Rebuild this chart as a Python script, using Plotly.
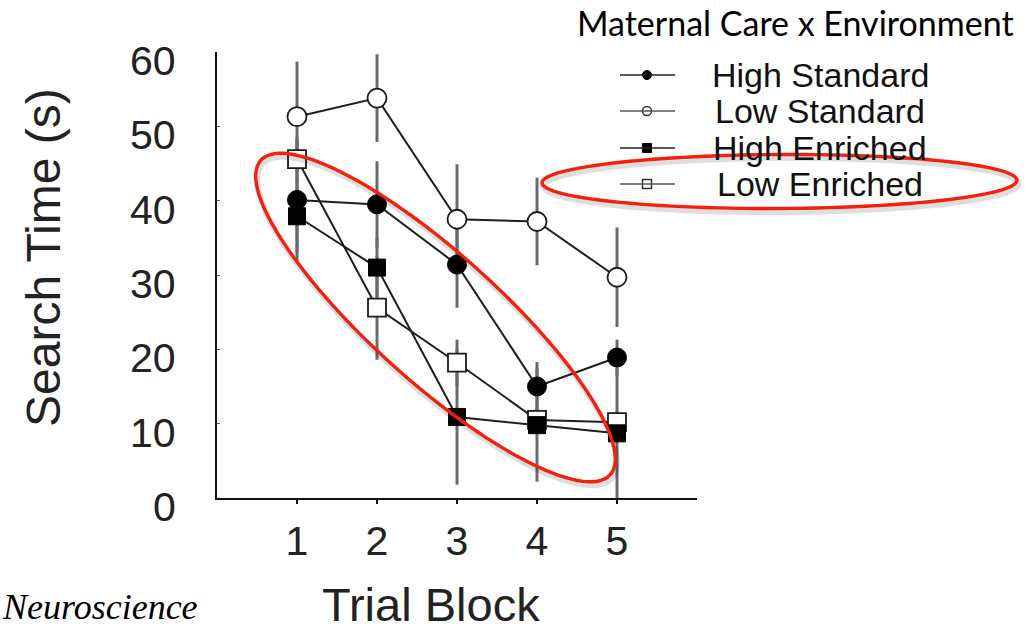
import numpy as np
import plotly.graph_objects as go

# ---- data -------------------------------------------------------------
trial_blocks = [1, 2, 3, 4, 5]

high_standard = [40.1, 39.5, 31.4, 15.0, 18.9]
high_standard_err = [8.2, 5.8, 5.8, 3.3, 2.4]

low_standard = [51.3, 53.8, 37.5, 37.2, 29.7]
low_standard_err = [7.4, 5.9, 7.4, 5.9, 6.7]

high_enriched = [37.9, 31.0, 10.9, 9.8, 8.7]
high_enriched_err = [5.0, 4.0, 9.1, 7.6, 8.8]

low_enriched = [45.6, 25.6, 18.2, 10.5, 10.2]
low_enriched_err = [3.0, 7.0, 3.1, 1.5, 1.5]

series_names = ["High Standard", "Low Standard", "High Enriched", "Low Enriched"]
y_ticks = [0, 10, 20, 30, 40, 50, 60]

# ---- geometry helpers (pixel -> paper) ---------------------------------
W, H = 1029, 631
L, R, T, B = 217, 332, 52, 133
PW, PH = W - L - R, H - T - B


def px(x):
    return (x - L) / PW


def py(y):
    return (H - B - y) / PH


def ellipse_path(cx, cy, a, b, deg, dx=0.0, dy=0.0, n=120):
    th = np.radians(deg)
    t = np.linspace(0, 2 * np.pi, n, endpoint=False)
    xs = cx + dx + a * np.cos(t) * np.cos(th) - b * np.sin(t) * np.sin(th)
    ys = cy + dy + a * np.cos(t) * np.sin(th) + b * np.sin(t) * np.cos(th)
    pts = [f"{px(x):.5f},{py(y):.5f}" for x, y in zip(xs, ys)]
    return "M " + " L ".join(pts) + " Z"


INK = "#1a1a1a"
ERR = "#6a6a6a"
FONT = "Arial, Liberation Sans, sans-serif"

fig = go.Figure()

# error bars first so the connecting lines and markers sit on top
for vals, errs in [(low_standard, low_standard_err), (high_standard, high_standard_err),
                   (low_enriched, low_enriched_err), (high_enriched, high_enriched_err)]:
    fig.add_trace(go.Scatter(
        x=trial_blocks, y=vals, mode="markers",
        marker=dict(size=1, color="rgba(0,0,0,0)"),
        error_y=dict(type="data", array=errs, visible=True, color=ERR, thickness=3, width=0),
        showlegend=False, hoverinfo="skip", cliponaxis=False,
    ))

styles = {
    "Low Standard": dict(symbol="circle", size=19, color="white", line=dict(color=INK, width=1.8)),
    "Low Enriched": dict(symbol="square", size=18, color="white", line=dict(color=INK, width=1.8)),
    "High Enriched": dict(symbol="square", size=17, color="black", line=dict(color="black", width=1)),
    "High Standard": dict(symbol="circle", size=19, color="black", line=dict(color="black", width=1)),
}
values = {
    "High Standard": high_standard,
    "Low Standard": low_standard,
    "High Enriched": high_enriched,
    "Low Enriched": low_enriched,
}
for name in ["Low Standard", "Low Enriched", "High Enriched", "High Standard"]:
    fig.add_trace(go.Scatter(
        x=trial_blocks, y=values[name], mode="lines+markers", name=name,
        line=dict(color="#1e1e1e", width=2),
        marker=styles[name], showlegend=False, cliponaxis=False,
    ))

# ---- hand-drawn legend on an overlay axis in paper units ---------------
legend_rows = [75, 111, 148, 184]
key_x0, key_x1, key_xm = 620, 675, 647
legend_marker = {
    "High Standard": dict(symbol="circle", size=9, color="black", line=dict(color="black", width=1)),
    "Low Standard": dict(symbol="circle", size=9, color="white", line=dict(color="#333", width=1.5)),
    "High Enriched": dict(symbol="square", size=9, color="black", line=dict(color="black", width=1)),
    "Low Enriched": dict(symbol="square", size=9, color="white", line=dict(color="#333", width=1.5)),
}
shapes = []
annotations = []
for name, ry in zip(series_names, legend_rows):
    dark = name.startswith("High")
    shapes.append(dict(type="line", xref="paper", yref="paper",
                       x0=px(key_x0), x1=px(key_x1), y0=py(ry), y1=py(ry),
                       line=dict(color="#222" if dark else "#555", width=1.6)))
    fig.add_trace(go.Scatter(
        x=[px(key_xm)], y=[py(ry)], xaxis="x2", yaxis="y2", mode="markers",
        marker=legend_marker[name], showlegend=False, hoverinfo="skip", cliponaxis=False,
    ))
    annotations.append(dict(text=name, xref="paper", yref="paper", x=px(820), y=py(ry),
                            xanchor="center", yanchor="middle", showarrow=False,
                            font=dict(family=FONT, size=34, color="#111")))

# y tick labels sit slightly below their tick marks
for v in y_ticks:
    annotations.append(dict(text=str(v), xref="paper", yref="y", x=px(178), y=v,
                            xanchor="right", yanchor="middle", yshift=-9, showarrow=False,
                            font=dict(family=FONT, size=41, color="#222")))

# ---- red highlight ellipses with a soft shadow -------------------------
for cx, cy, a, b, deg in [(435.5, 317.5, 235, 64, 42.0), (779.5, 181.5, 237.5, 27, -0.3)]:
    shapes.append(dict(type="path", xref="paper", yref="paper",
                       path=ellipse_path(cx, cy, a, b, deg, 1.5, 3.5),
                       line=dict(color="rgba(0,0,0,0.13)", width=6)))
    shapes.append(dict(type="path", xref="paper", yref="paper",
                       path=ellipse_path(cx, cy, a, b, deg),
                       line=dict(color="#f2200d", width=3.4)))

# ---- texts -------------------------------------------------------------
annotations += [
    dict(text="Maternal Care x Environment", xref="paper", yref="paper",
         x=px(795), y=py(22), xanchor="center", yanchor="middle", showarrow=False,
         font=dict(family="Lato, Carlito, sans-serif", size=34, color="black")),
    dict(text="Search Time (s)", xref="paper", yref="paper", textangle=-90,
         x=px(43), y=py(258), xanchor="center", yanchor="middle", showarrow=False,
         font=dict(family=FONT, size=48, color="#222")),
    dict(text="Trial Block", xref="paper", yref="paper",
         x=px(431), y=py(604), xanchor="center", yanchor="middle", showarrow=False,
         font=dict(family=FONT, size=47, color="#222")),
    dict(text="<i>Neuroscience</i>", xref="paper", yref="paper",
         x=px(0), y=py(607), xanchor="left", yanchor="middle", showarrow=False,
         font=dict(family="Liberation Serif, Times New Roman, serif", size=36, color="black")),
]

fig.update_layout(
    width=W, height=H,
    margin=dict(l=L, r=R, t=T, b=B, pad=0),
    paper_bgcolor="white", plot_bgcolor="white",
    showlegend=False,
    font=dict(family=FONT, color="#222"),
    xaxis=dict(range=[0, 6], tickvals=trial_blocks, ticktext=[str(v) for v in trial_blocks],
               showline=True, linecolor="#111", linewidth=2, ticks="outside", ticklen=4,
               tickcolor="#111", tickwidth=2, showgrid=False, zeroline=False,
               tickfont=dict(family=FONT, size=41, color="#222"), ticklabelstandoff=2),
    yaxis=dict(range=[0, 60], tickvals=y_ticks, showticklabels=False,
               showline=True, linecolor="#111", linewidth=2,
               ticks="inside", ticklen=3, tickcolor="#555", showgrid=False, zeroline=False),
    xaxis2=dict(range=[0, 1], overlaying="x", visible=False),
    yaxis2=dict(range=[0, 1], overlaying="y", visible=False),
    shapes=shapes,
    annotations=annotations,
)

fig.write_html("out.html")
